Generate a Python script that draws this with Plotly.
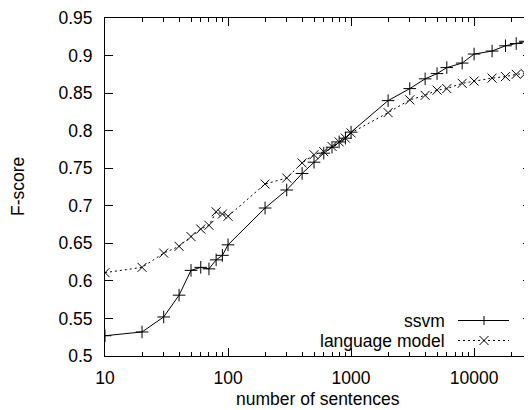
import plotly.graph_objects as go

# ---- data ----
sentences = [10, 20, 30, 40, 50, 60, 70, 80, 90, 100, 200, 300, 400, 500, 600, 700, 800, 900,
             1000, 2000, 3000, 4000, 5000, 6000, 8000, 10000, 14000, 18000, 22000, 26000, 30000]
ssvm = [0.527, 0.532, 0.552, 0.581, 0.614, 0.618, 0.616, 0.628, 0.634, 0.648, 0.697, 0.721,
        0.743, 0.758, 0.770, 0.778, 0.785, 0.790, 0.798, 0.840, 0.856, 0.869, 0.876, 0.884,
        0.890, 0.902, 0.906, 0.913, 0.916, 0.919, 0.921]
language_model = [0.611, 0.618, 0.637, 0.646, 0.659, 0.669, 0.674, 0.692, 0.689, 0.686, 0.729,
                  0.737, 0.757, 0.768, 0.772, 0.779, 0.785, 0.790, 0.797, 0.824, 0.841, 0.847,
                  0.854, 0.856, 0.863, 0.866, 0.870, 0.872, 0.875, 0.876, 0.877]
x_tickvals = [10, 100, 1000, 10000]
x_ticktext = ["10", "100", "1000", "10000"]
x_minor = [m * d for d in (10, 100, 1000, 10000) for m in range(2, 10)]
y_tickvals = [0.5, 0.55, 0.6, 0.65, 0.7, 0.75, 0.8, 0.85, 0.9, 0.95]
y_ticktext = ["0.5", "0.55", "0.6", "0.65", "0.7", "0.75", "0.8", "0.85", "0.9", "0.95"]

FONT = "Liberation Sans, Arial, Helvetica, sans-serif"
FS = 17.5

fig = go.Figure()
fig.add_trace(go.Scatter(
    x=sentences, y=ssvm, name="ssvm", mode="lines+markers",
    line=dict(color="black", width=1),
    marker=dict(symbol="cross-thin", size=9, line=dict(color="black", width=1)),
))
fig.add_trace(go.Scatter(
    x=sentences, y=language_model, name="language model", mode="lines+markers",
    line=dict(color="black", width=1, dash="2px,3px"),
    marker=dict(symbol="x-thin", size=9, line=dict(color="black", width=1)),
))

# the page body has an 8px margin; the figure is shrunk/shifted to compensate
OFF = 8
FW, FH = 532 - OFF, 410 - OFF
# plot area in window pixels
L, R, T, B = 105, 531, 18, 356
W, H = R - L, B - T


def px(x):
    return (x - L) / W


def py(y):
    return (B - y) / H


shapes = []
annotations = []
legend_rows = [("ssvm", 320.5, "solid", "plus"), ("language model", 340.5, "2px,3px", "x")]
for label, yy, dash, sym in legend_rows:
    annotations.append(dict(x=px(446), y=py(yy), xref="paper", yref="paper", text=label,
                            showarrow=False, xanchor="right", yanchor="middle", borderpad=0,
                            font=dict(family=FONT, size=FS, color="black")))
    shapes.append(dict(type="line", xref="paper", yref="paper", x0=px(458), x1=px(509),
                       y0=py(yy), y1=py(yy), line=dict(color="black", width=1, dash=dash)))
    cx, cy, r = 484, yy, 4.5
    if sym == "plus":
        path = f"M{px(cx - r)},{py(cy)} L{px(cx + r)},{py(cy)} M{px(cx)},{py(cy - r)} L{px(cx)},{py(cy + r)}"
    else:
        path = (f"M{px(cx - r)},{py(cy - r)} L{px(cx + r)},{py(cy + r)} "
                f"M{px(cx - r)},{py(cy + r)} L{px(cx + r)},{py(cy - r)}")
    shapes.append(dict(type="path", xref="paper", yref="paper", path=path,
                       line=dict(color="black", width=1)))

annotations.append(dict(x=px(18), y=0.5, xref="paper", yref="paper", text="F-score",
                        textangle=-90, showarrow=False, xanchor="center", yanchor="middle",
                        borderpad=0, font=dict(family=FONT, size=FS, color="black")))
annotations.append(dict(x=0.5, y=py(410), xref="paper", yref="paper", text="number of sentences",
                        showarrow=False, xanchor="center", yanchor="bottom", borderpad=0,
                        font=dict(family=FONT, size=FS, color="black")))

fig.update_layout(
    width=FW, height=FH,
    margin=dict(l=L - OFF, r=FW - (R - OFF), t=T - OFF, b=FH - (B - OFF), autoexpand=False),
    paper_bgcolor="white", plot_bgcolor="white",
    showlegend=False,
    font=dict(family=FONT, size=FS, color="black"),
    shapes=shapes, annotations=annotations,
    xaxis=dict(type="log", range=[1, 4.4625], tickvals=x_tickvals, ticktext=x_ticktext,
               ticks="inside", ticklen=8, tickcolor="black", showline=True, linecolor="black",
               linewidth=1, mirror="ticks", showgrid=False, zeroline=False,
               ticklabelstandoff=6,
               minor=dict(tickmode="array", tickvals=x_minor, ticks="inside", ticklen=4,
                          tickcolor="black", showgrid=False)),
    yaxis=dict(range=[0.5, 0.95], tickvals=y_tickvals, ticktext=y_ticktext,
               ticks="inside", ticklen=8, tickcolor="black", showline=True, linecolor="black",
               linewidth=1, mirror="ticks", showgrid=False, zeroline=False,
               ticklabelstandoff=8),
)

fig.write_html("out.html")
